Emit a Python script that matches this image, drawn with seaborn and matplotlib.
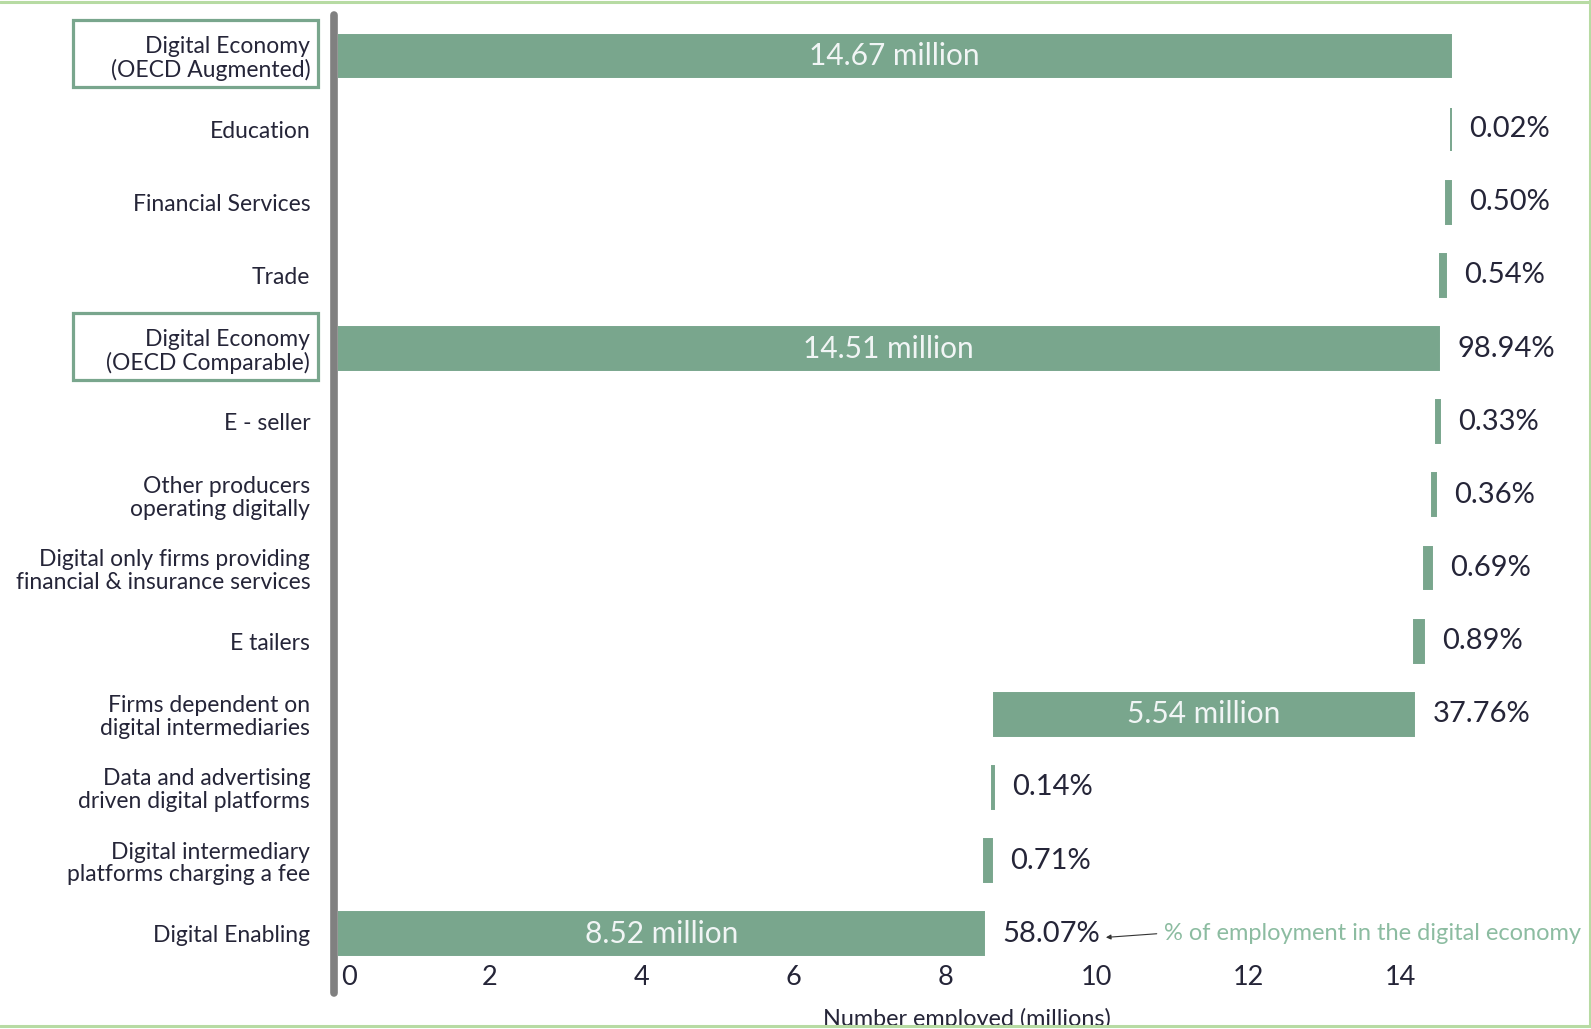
import numpy as np
import pandas as pd
import matplotlib
matplotlib.use("Agg")
import matplotlib.pyplot as plt
from matplotlib.patches import Rectangle
from matplotlib.lines import Line2D
from matplotlib.transforms import blended_transform_factory, ScaledTranslation
import seaborn as sns

# ---- data -------------------------------------------------------------
categories = [
    "Digital Economy\n(OECD Augmented)",
    "Education",
    "Financial Services",
    "Trade",
    "Digital Economy\n(OECD Comparable)",
    "E - seller",
    "Other producers\noperating digitally",
    "Digital only firms providing\nfinancial & insurance services",
    "E tailers",
    "Firms dependent on\ndigital intermediaries",
    "Data and advertising\ndriven digital platforms",
    "Digital intermediary\nplatforms charging a fee",
    "Digital Enabling",
]
employed_millions = [14.67, np.nan, np.nan, np.nan, 14.51, np.nan, np.nan,
                     np.nan, np.nan, 5.54, np.nan, np.nan, 8.52]
share_pct = [np.nan, 0.02, 0.50, 0.54, 98.94, 0.33, 0.36,
             0.69, 0.89, 37.76, 0.14, 0.71, 58.07]
is_total = [True, False, False, False, True, False, False,
            False, False, False, False, False, False]
boxed_labels = ["Digital Economy\n(OECD Augmented)", "Digital Economy\n(OECD Comparable)"]
digital_economy_total = 14.67
x_ticks = [0, 2, 4, 6, 8, 10, 12, 14]

# ---- waterfall geometry ------------------------------------------------
df = pd.DataFrame({"category": categories, "millions": employed_millions,
                   "pct": share_pct, "total": is_total})
df["width"] = np.where(df["millions"].notna(), df["millions"],
                       df["pct"] / 100 * digital_economy_total)
starts = np.zeros(len(df))
running = 0.0
for i in range(len(df) - 1, -1, -1):      # build up from the bottom row
    if df.loc[i, "total"]:
        starts[i] = 0.0
    else:
        starts[i] = running
        running += df.loc[i, "width"]
df["start"] = starts
df["end"] = df["start"] + df["width"]

# ---- style ---------------------------------------------------------------
BAR = "#79a68d"
TEXT = "#252538"
BOX = "#79a68d"
FRAME = "#b7dba3"
NOTE = "#8cbca1"

sns.set_theme(style="white")
plt.rcParams["font.family"] = ["Lato", "DejaVu Sans"]

W, H = 1591, 1029
fig = plt.figure(figsize=(W / 100, H / 100), dpi=100)
ax = fig.add_axes([338 / W, 1 - 993 / H, (1590 - 338) / W, (993 - 15) / H])

sns.barplot(data=df, x="width", y="category", left=df["start"].to_numpy(),
            orient="y", color=BAR, saturation=1, width=0.585,
            edgecolor=BAR, linewidth=1.4, ax=ax)

ax.set_xlim(0, 16.5)
ax.set_ylim(12.81, -0.56)
ax.set_xticks(x_ticks)
ax.set_xticklabels([str(t) for t in x_ticks])
ax.set_xlabel("")
ax.set_ylabel("")
for s in ax.spines.values():
    s.set_visible(False)
ax.tick_params(axis="x", length=0, pad=-20, labelsize=19.5, labelcolor=TEXT)
ax.tick_params(axis="y", length=0, pad=20, labelsize=16.5, labelcolor=TEXT)
for lab in ax.get_yticklabels():
    lab.set_linespacing(1.1)
# nudge the "0" clear of the grey axis line
zero_lab = ax.get_xticklabels()[0]
zero_lab.set_transform(zero_lab.get_transform() + ScaledTranslation(8 / 72, 0, fig.dpi_scale_trans))

# thick grey category axis
ax.axvline(-0.055, ymin=0, ymax=1, color="#808080", lw=5.5,
           solid_capstyle="round", zorder=5, clip_on=False)

# value labels
for i, row in df.iterrows():
    if not np.isnan(row["millions"]):
        ax.text(row["start"] + row["width"] / 2, i, f"{row['millions']:.2f} million",
                ha="center", va="center", fontsize=21.5, color="#f1f5f5", zorder=6)
    if not np.isnan(row["pct"]):
        ax.annotate(f"{row['pct']:.2f}%", xy=(row["end"], i), xytext=(13, 0),
                    textcoords="offset points", ha="left", va="center",
                    fontsize=21, color=TEXT)

# note explaining the percentages
last = len(df) - 1
end_last = df.loc[last, "end"]
ax.annotate("", xy=(end_last + 1.6, last + 0.05), xytext=(end_last + 2.27, last),
            arrowprops=dict(arrowstyle="-|>", color="#333333", lw=0.8,
                            mutation_scale=7, shrinkA=0, shrinkB=0))
ax.text(end_last + 2.37, last, "% of employment in the digital economy",
        ha="left", va="center", fontsize=17, color=NOTE)

# boxes round the two digital economy totals
box_tf = blended_transform_factory(fig.transFigure, ax.transData)
for lab in boxed_labels:
    r = categories.index(lab)
    ax.add_patch(Rectangle((73 / W, r - 0.49), 245 / W, 0.92, transform=box_tf,
                           fill=False, edgecolor=BOX, lw=2.3, clip_on=False))

# axis title sits at the very bottom edge
fig.text(967 / W, 1 - 1019 / H, "Number employed (millions)",
         ha="center", va="center", fontsize=16.8, color=TEXT)
fig.add_artist(Rectangle((0, 0), 1, 1 - 1026 / H, transform=fig.transFigure,
                         facecolor="white", edgecolor="none", zorder=10))

# thin frame lines
for line in [([0, 1], [1 - 1.5 / H] * 2), ([1 - 1.5 / W] * 2, [1 - 1026 / H, 1]),
             ([0, 1], [1 - 1026 / H] * 2)]:
    fig.add_artist(Line2D(line[0], line[1], transform=fig.transFigure,
                          color=FRAME, lw=2.2, zorder=11))

fig.savefig("out.png", dpi=100)
